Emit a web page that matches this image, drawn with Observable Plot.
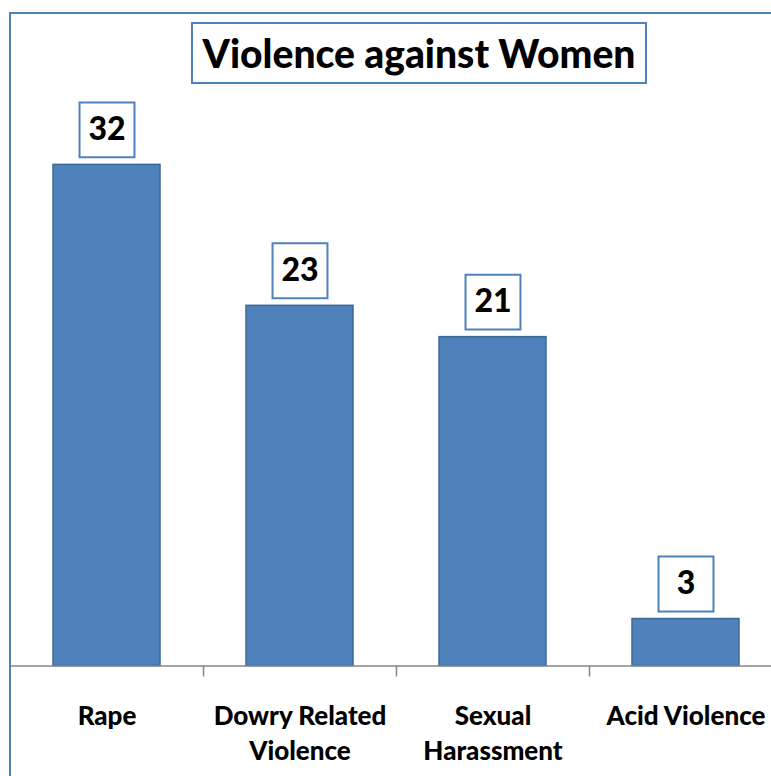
<!DOCTYPE html>
<html>
<head>
<meta charset="utf-8">
<script src="https://cdn.jsdelivr.net/npm/d3@7"></script>
<script src="https://cdn.jsdelivr.net/npm/@observablehq/plot@0.6"></script>
<style>
  html, body { margin: 0; padding: 0; background: #fff; overflow: hidden; }
  #wrap { position: relative; width: 771px; height: 776px; overflow: hidden; }
  #border { position: absolute; left: 9px; top: 12px; width: 820px; height: 820px;
            border: 2px solid #4F81BD; box-sizing: border-box; pointer-events: none; }
  #title { position: absolute; left: 191px; top: 22px; width: 456px; height: 62px;
           border: 2px solid #4F81BD; box-sizing: border-box; background: #fff;
           font-family: Lato, sans-serif; font-weight: 900; font-size: 39px;
           display: flex; align-items: center; justify-content: center; color: #000; }
  #chart { position: absolute; left: 0; top: 0; }
</style>
</head>
<body>
<div id="wrap">
  <div id="chart"></div>
  <div id="border"></div>
  <div id="title">Violence against Women</div>
</div>
<script>
const categories = ["Rape", "Dowry Related\nViolence", "Sexual\nHarassment", "Acid Violence"];
const values = [32, 23, 21, 3];

const data = categories.map((c, i) => ({category: c, value: values[i]}));

const plot = Plot.plot({
  width: 771,
  height: 776,
  marginLeft: 10,
  marginRight: 0,
  marginTop: 0,
  marginBottom: 0,
  style: {fontFamily: "Lato, sans-serif", background: "transparent"},
  x: {domain: categories, range: [10, 782], paddingInner: 0.445, paddingOuter: 0.2225, axis: null},
  y: {domain: [0, 35], range: [665.5, 117.4], axis: null},
  marks: [
    Plot.barY(data, {x: "category", y: "value", fill: "#4F81BD", stroke: "#3C6896", strokeWidth: 1.5}),
    Plot.ruleY([0], {stroke: "#868686", strokeWidth: 1.5}),
    Plot.ruleX(categories.slice(1), {x: d => d, dx: -96.5, y1: 0, y2: -0.7, stroke: "#868686", strokeWidth: 1.5}),
    Plot.dot(data, {x: "category", y: "value", symbol: "square", r: 31, dy: -35, fill: "#fff", stroke: "#4F81BD", strokeWidth: 2}),
    Plot.text(data, {x: "category", y: "value", text: d => String(d.value), dy: -35, fontSize: 32, fontWeight: 900, fill: "#000"}),
    Plot.text(data, {x: "category", y: 0, text: "category", dy: 34, lineAnchor: "top", lineHeight: 1.35, fontSize: 26, fontWeight: 900, fill: "#000"})
  ]
});
document.getElementById("chart").appendChild(plot);
</script>
</body>
</html>
